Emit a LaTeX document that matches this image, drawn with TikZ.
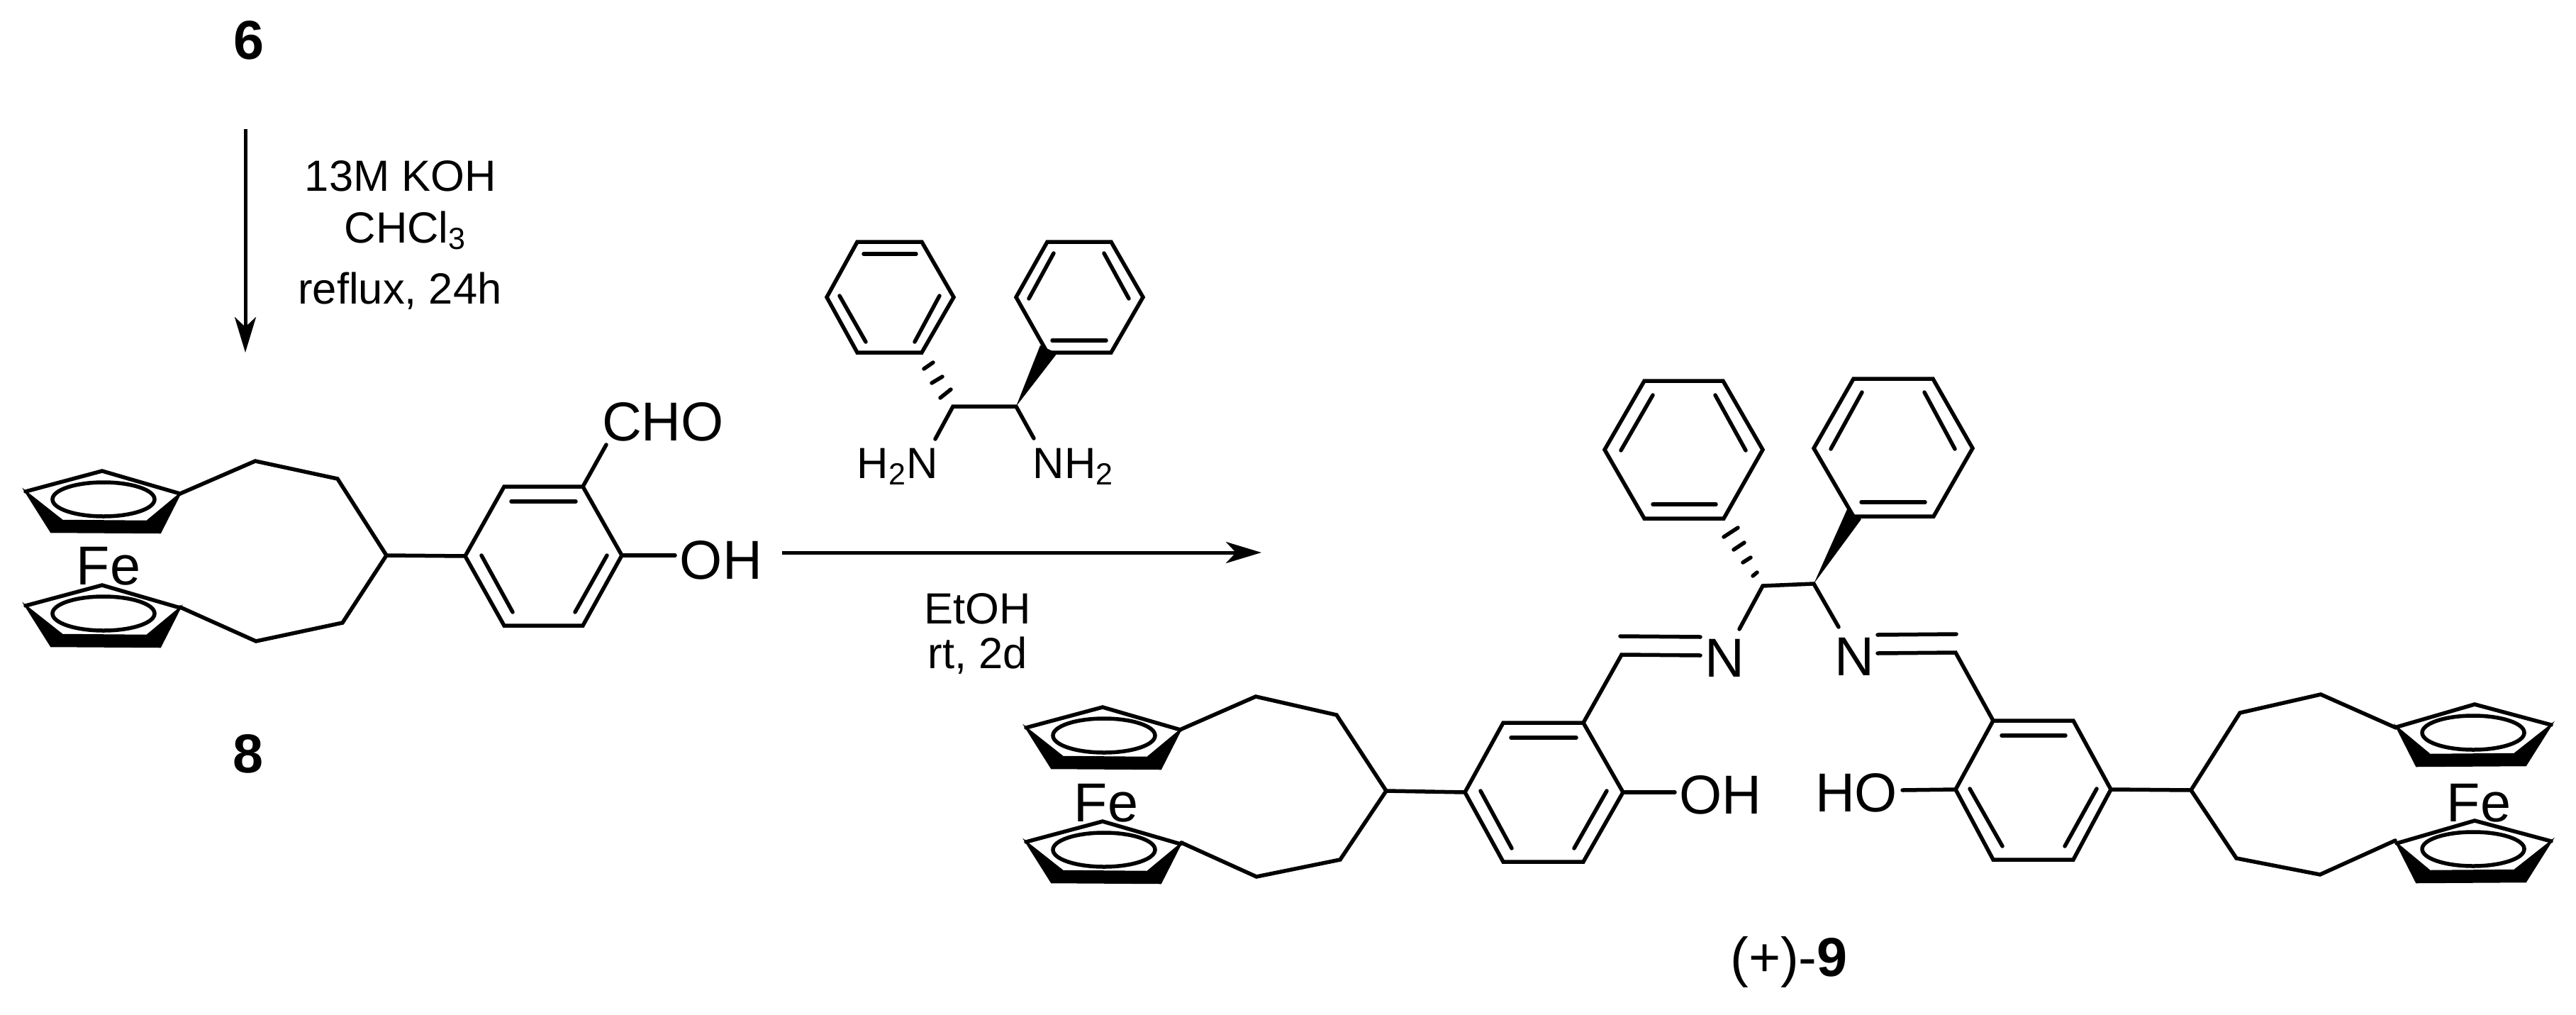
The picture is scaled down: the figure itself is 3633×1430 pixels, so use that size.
\documentclass[tikz,border=0pt]{standalone}
\usepackage{fontspec}
\setmainfont{Liberation Sans}
\usetikzlibrary{arrows.meta}
\newcommand{\lbl}{\fontsize{22}{26}\selectfont}
\newcommand{\cnd}{\fontsize{17.5}{21}\selectfont}
\newcommand{\cpring}[3]{%
   \begin{scope}[shift={(#1,#2)},xscale=#3]
   \draw[bond] (-108,29) -- (0,0) -- (110,32);
   \fill[ringfill] (-108,29) -- (-72,86) -- (82,87) -- (110,32) -- (63,71) -- (-56,70) -- cycle;
   \draw[bond] (2,40) ellipse (72 and 24);
   \end{scope}}
\tikzset{
  bond/.style={line width=0.055cm,line cap=round,line join=miter},
  ringfill/.style={draw,line width=0.025cm,line join=miter},
  rxn/.style={line width=0.05cm,-{Stealth[length=0.5cm,width=0.3cm,inset=0.14cm]}},
  big/.style={inner sep=0pt,anchor=base,font=\lbl},
  small/.style={inner sep=0pt,anchor=base,font=\cnd}
}
\begin{document}
\begin{tikzpicture}[x=0.01cm,y=-0.01cm]
   \useasboundingbox (0,0) rectangle (3633,1430);
   \node[big] (six) at (351,83) {\textbf{6}};
   \node[big] (eight) at (350,1089) {\textbf{8}};
   \node[big] (nine) at (2523,1376) {(+)-\textbf{9}};
   \coordinate (a1) at (346,182);
   \coordinate (a2) at (346,497);
   \coordinate (b1) at (1103,779);
   \coordinate (b2) at (1779,779);
   \draw[rxn] (a1) -- (a2);
   \draw[rxn] (b1) -- (b2);
   \node[small] (koh) at (565,269) {13M KOH};
   \node[small] (chcl) at (572,342) {CHCl\textsubscript{3}};
   \node[small] (refl) at (564,428) {reflux, 24h};
   \node[small] (etoh) at (1379,879) {EtOH};
   \node[small] (rt) at (1379,942) {rt, 2d};

   \cpring{144}{664}{1}
   \cpring{144}{825}{1}
   \node[big] (fea) at (153,824) {Fe};
   \draw[bond] (254,696) -- (360,650) -- (476,675) -- (545,783) -- (483,878) -- (361,904) -- (254,856);
   \draw[bond] (545,783) -- (656,784);
   \draw[bond] (656,784) -- (711,686) -- (822,686) -- (877,783) -- (822,882) -- (711,882) -- cycle;
   \draw[bond] (721,707) -- (812,707);
   \draw[bond] (679,783) -- (723,863);
   \draw[bond] (856,783) -- (811,863);
   \draw[bond] (822,686) -- (855,627);
   \draw[bond] (877,783) -- (952,783);
   \node[big] (cho) at (935,621) {CHO};
   \node[big] (oha) at (1017,816) {OH};

   \draw[bond] (1166,419) -- (1209,341) -- (1300,341) -- (1345,419) -- (1300,497) -- (1209,497) -- cycle;
   \draw[bond] (1218,358) -- (1292,358);
   \draw[bond] (1184,417) -- (1221,482);
   \draw[bond] (1325,417) -- (1290,482);
   \draw[bond] (1433,419) -- (1477,341) -- (1567,341) -- (1612,419) -- (1567,497) -- (1477,497) -- cycle;
   \draw[bond] (1486,357) -- (1451,421);
   \draw[bond] (1557,357) -- (1592,421);
   \draw[bond] (1484,480) -- (1560,480);
   \fill (1433,573) -- (1467,487) -- (1491,498) -- cycle;
   \draw[bond] (1316,511) -- (1303,520);
   \draw[bond] (1329,531) -- (1314,540);
   \draw[bond] (1341,549) -- (1326,561);
   \draw[bond] (1319,619) -- (1344,573) -- (1433,573) -- (1458,618);
   \node[small] (hhn) at (1266,674) {H\textsubscript{2}N};
   \node[small] (nhh) at (1514,674) {NH\textsubscript{2}};

   \draw[bond] (2263,634) -- (2319,537) -- (2430,537) -- (2486,634) -- (2431,731) -- (2319,731) -- cycle;
   \draw[bond] (2331,557) -- (2286,635);
   \draw[bond] (2419,557) -- (2462,635);
   \draw[bond] (2331,711) -- (2420,711);
   \draw[bond] (2558,632) -- (2614,534) -- (2726,534) -- (2782,632) -- (2727,728) -- (2614,728) -- cycle;
   \draw[bond] (2626,553) -- (2582,633);
   \draw[bond] (2714,553) -- (2757,633);
   \draw[bond] (2625,708) -- (2715,708);
   \fill (2558,823) -- (2605,718) -- (2625,732) -- cycle;
   \draw[bond] (2451,744) -- (2431,757);
   \draw[bond] (2460,765) -- (2445,775);
   \draw[bond] (2469,786) -- (2458,793);
   \draw[bond] (2478,807) -- (2472,812);
   \draw[bond] (2453,887) -- (2486,826) -- (2558,823) -- (2593,884);
   \node[big] (nl) at (2432,954) {N};
   \node[big] (nr) at (2615,952) {N};
   \draw[bond] (2285,897) -- (2398,898);
   \draw[bond] (2398,924) -- (2287,923) -- (2233,1019);
   \draw[bond] (2648,895) -- (2759,894);
   \draw[bond] (2648,921) -- (2758,920) -- (2811,1016);

   \cpring{1555}{997}{1}
   \cpring{1555}{1158}{1}
   \node[big] (feb) at (1560,1158) {Fe};
   \draw[bond] (1666,1028) -- (1771,982) -- (1885,1008) -- (1955,1115) -- (1890,1212) -- (1772,1236) -- (1666,1188);
   \draw[bond] (1955,1115) -- (2066,1117);
   \draw[bond] (2066,1117) -- (2120,1019) -- (2233,1019) -- (2289,1117) -- (2233,1215) -- (2120,1215) -- cycle;
   \draw[bond] (2131,1040) -- (2223,1040);
   \draw[bond] (2088,1115) -- (2132,1196);
   \draw[bond] (2266,1115) -- (2220,1196);
   \draw[bond] (2289,1117) -- (2362,1117);
   \node[big] (ohb) at (2426,1147) {OH};

   \draw[bond] (2758,1113) -- (2811,1016) -- (2924,1016) -- (2977,1113) -- (2924,1212) -- (2811,1212) -- cycle;
   \draw[bond] (2823,1037) -- (2913,1037);
   \draw[bond] (2778,1112) -- (2824,1193);
   \draw[bond] (2957,1112) -- (2912,1193);
   \draw[bond] (2683,1114) -- (2758,1113);
   \node[big] (hoc) at (2618,1144) {HO};
   \draw[bond] (2977,1113) -- (3090,1114);
   \draw[bond] (3379,1026) -- (3273,979) -- (3159,1005) -- (3090,1114) -- (3154,1210) -- (3272,1233) -- (3378,1185);
   \cpring{3490}{993}{-1}
   \cpring{3490}{1157}{-1}
   \node[big] (fec) at (3496,1158) {Fe};
\end{tikzpicture}
\end{document}
